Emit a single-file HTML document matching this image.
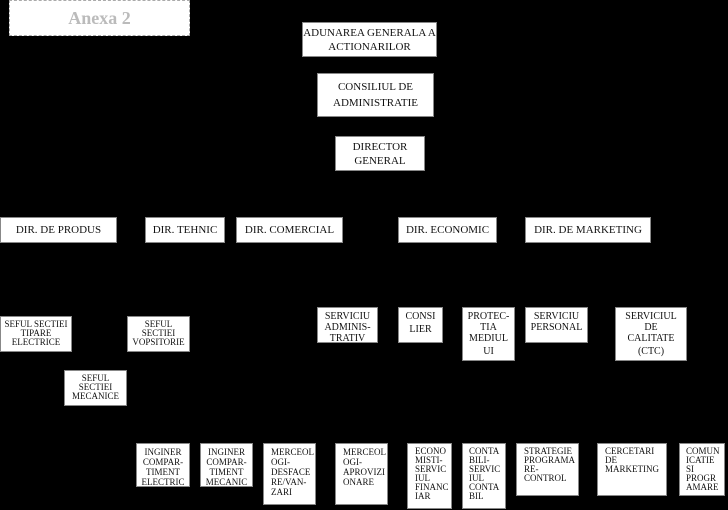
<!DOCTYPE html>
<html><head><style>
body{margin:0;width:728px;height:510px;background:#000;position:relative;overflow:hidden;font-family:"Liberation Serif",serif;}
.b{position:absolute;background:#fff;color:#111;font-size:10px;line-height:11px;text-align:center;box-sizing:border-box;padding-top:3px;border:1px solid #888;overflow:hidden;}
.l{text-align:left;padding-left:7px;}
.m{font-size:11px;line-height:14px;padding-top:5px;}
</style></head><body>
<div class="b" style="left:9px;top:0;width:181px;height:36px;color:#bbb;font-weight:bold;font-size:18px;line-height:20px;padding-top:7px;border:1px dashed #aaa;">Anexa 2</div>
<div class="b m" style="left:302px;top:22px;width:135px;height:35px;padding-top:3px;white-space:nowrap;">ADUNAREA GENERALA A<br>ACTIONARILOR</div>
<div class="b m" style="left:317px;top:73px;width:117px;height:44px;padding-top:5px;line-height:16px;">CONSILIUL DE<br>ADMINISTRATIE</div>
<div class="b m" style="left:335px;top:136px;width:90px;height:35px;padding-top:3px;">DIRECTOR<br>GENERAL</div>
<div class="b m" style="left:0;top:217px;width:117px;height:26px;">DIR. DE PRODUS</div>
<div class="b m" style="left:145px;top:217px;width:80px;height:26px;">DIR. TEHNIC</div>
<div class="b m" style="left:236px;top:217px;width:107px;height:26px;">DIR. COMERCIAL</div>
<div class="b m" style="left:398px;top:217px;width:99px;height:26px;">DIR. ECONOMIC</div>
<div class="b m" style="left:525px;top:217px;width:126px;height:26px;">DIR. DE MARKETING</div>
<div class="b" style="left:317px;top:307px;width:61px;height:36px;">SERVICIU<br>ADMINIS-<br>TRATIV</div>
<div class="b" style="left:398px;top:307px;width:45px;height:36px;">CONSI<br><span style="line-height:15px">LIER</span></div>
<div class="b" style="left:462px;top:307px;width:53px;height:54px;">PROTEC-<br>TIA<br>MEDIUL<br><span style="line-height:15px">UI</span></div>
<div class="b" style="left:525px;top:307px;width:63px;height:36px;">SERVICIU<br>PERSONAL</div>
<div class="b" style="left:615px;top:307px;width:72px;height:54px;">SERVICIUL<br>DE<br>CALITATE<br><span style="line-height:15px">(CTC)</span></div>
<div class="b" style="left:0;top:316px;width:72px;height:36px;font-size:9px;line-height:9px;">SEFUL SECTIEI<br>TIPARE<br>ELECTRICE</div>
<div class="b" style="left:127px;top:316px;width:63px;height:36px;font-size:9px;line-height:9px;">SEFUL<br>SECTIEI<br>VOPSITORIE</div>
<div class="b" style="left:64px;top:370px;width:63px;height:36px;font-size:9px;line-height:9px;">SEFUL<br>SECTIEI<br>MECANICE</div>
<div class="b" style="left:136px;top:443px;width:54px;height:44px;font-size:9px;line-height:10px;">INGINER<br>COMPAR-<br>TIMENT<br>ELECTRIC</div>
<div class="b" style="left:200px;top:443px;width:53px;height:44px;font-size:9px;line-height:10px;">INGINER<br>COMPAR-<br>TIMENT<br>MECANIC</div>
<div class="b l" style="left:263px;top:443px;width:53px;height:62px;font-size:9px;line-height:10px;">MERCEOL<br>OGI-<br>DESFACE<br>RE/VAN-<br>ZARI</div>
<div class="b l" style="left:335px;top:443px;width:53px;height:62px;font-size:9px;line-height:10px;">MERCEOL<br>OGI-<br>APROVIZI<br>ONARE</div>
<div class="b l" style="left:407px;top:443px;width:45px;height:66px;font-size:9px;line-height:9px;">ECONO<br>MISTI-<br>SERVIC<br>IUL<br>FINANC<br>IAR</div>
<div class="b l" style="left:462px;top:443px;width:44px;height:66px;font-size:9px;line-height:9px;padding-left:6px;">CONTA<br>BILI-<br>SERVIC<br>IUL<br>CONTA<br>BIL</div>
<div class="b l" style="left:516px;top:443px;width:63px;height:53px;font-size:9px;line-height:9px;">STRATEGIE<br>PROGRAMA<br>RE-<br>CONTROL</div>
<div class="b l" style="left:597px;top:443px;width:70px;height:53px;font-size:9px;line-height:9px;">CERCETARI<br>DE<br>MARKETING</div>
<div class="b l" style="left:679px;top:443px;width:46px;height:53px;font-size:9px;line-height:9px;padding-left:6px;">COMUN<br>ICATIE<br>SI<br>PROGR<br>AMARE</div>
</body></html>
